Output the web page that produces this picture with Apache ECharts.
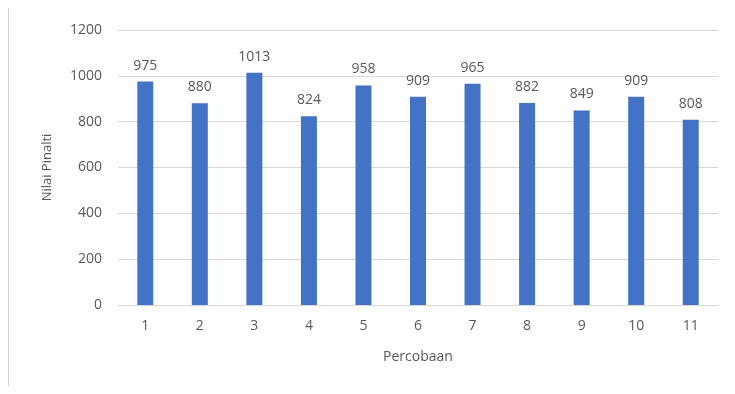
<!DOCTYPE html>
<html>
<head>
<meta charset="utf-8">
<script src="https://cdn.jsdelivr.net/npm/echarts@6/dist/echarts.min.js"></script>
<style>
html, body { margin: 0; padding: 0; background: #fff; }
#chart { width: 735px; height: 394px; }
</style>
</head>
<body>
<div id="chart"></div>
<script>
// Percobaan vs Nilai Pinalti
var categories = ["1", "2", "3", "4", "5", "6", "7", "8", "9", "10", "11"];
var values = [975, 880, 1013, 824, 958, 909, 965, 882, 849, 909, 808];
var yTicks = [0, 200, 400, 600, 800, 1000, 1200];

var textColor = "#595959";
var font = "'Open Sans', 'Noto Sans', sans-serif";

var chart = echarts.init(document.getElementById("chart"));
chart.setOption({
  animation: false,
  textStyle: { fontFamily: font },
  graphic: [
    {
      type: "line",
      shape: { x1: 8.5, y1: 8, x2: 8.5, y2: 386 },
      style: { stroke: "#d0d0d0", lineWidth: 1 }
    }
  ],
  grid: { left: 118, right: 17, top: 30, bottom: 89 },
  xAxis: {
    type: "category",
    data: categories,
    name: "Percobaan",
    nameLocation: "middle",
    nameGap: 45,
    nameTextStyle: { color: textColor, fontSize: 14, fontFamily: font },
    axisLine: { lineStyle: { color: "#d9d9d9" } },
    axisTick: { show: false },
    axisLabel: { color: textColor, fontSize: 14, margin: 14, fontFamily: font }
  },
  yAxis: {
    type: "value",
    min: yTicks[0],
    max: yTicks[yTicks.length - 1],
    interval: 200,
    name: "Nilai Pinalti",
    nameLocation: "middle",
    nameGap: 64,
    nameRotate: 90,
    nameTextStyle: { color: textColor, fontSize: 13, fontFamily: font },
    axisLine: { show: false },
    axisTick: { show: false },
    axisLabel: {
      color: textColor,
      fontSize: 14,
      margin: 16,
      fontFamily: font,
      formatter: function (v) { return String(v); }
    },
    splitLine: { lineStyle: { color: "#d9d9d9" } }
  },
  series: [
    {
      type: "bar",
      data: values,
      barWidth: 16,
      itemStyle: { color: "#4472C4" },
      label: {
        show: true,
        position: "top",
        distance: 9,
        color: textColor,
        fontSize: 14,
        fontFamily: font
      }
    }
  ]
});
</script>
</body>
</html>
